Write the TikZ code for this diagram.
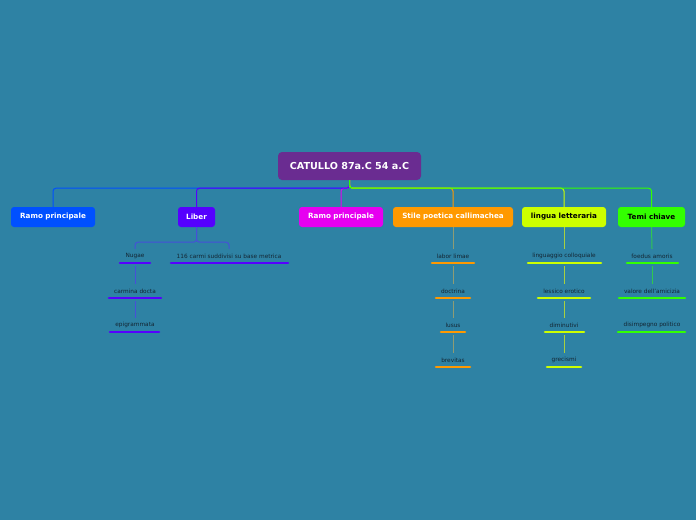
\documentclass[tikz,border=0pt]{standalone}
\usepackage{fontspec}
\setmainfont{DejaVu Sans}
\definecolor{bg}{HTML}{2E82A4}
\definecolor{croot}{HTML}{6A2C91}
\definecolor{ca}{HTML}{0050FF}
\definecolor{cb}{HTML}{5500FF}
\definecolor{cc}{HTML}{E600F0}
\definecolor{cd}{HTML}{FF9900}
\definecolor{ce}{HTML}{CCFF00}
\definecolor{cf}{HTML}{33FF00}
\definecolor{itemtext}{HTML}{142633}
\definecolor{subb}{HTML}{4650D8}
\definecolor{subd}{HTML}{8E9C74}
\definecolor{sube}{HTML}{A8D040}
\definecolor{subf}{HTML}{30C850}
\tikzset{
  rootbox/.style={fill=croot, rounded corners=4pt, minimum width=143pt, minimum height=28pt,
    text=white, font=\fontsize{9.6}{11}\selectfont\bfseries, inner sep=0pt},
  mainbox/.style={fill=#1, rounded corners=3pt, minimum height=20pt,
    font=\fontsize{7.2}{9}\selectfont\bfseries, inner sep=0pt},
  item/.style={minimum height=14pt, inner xsep=0pt, inner ysep=0pt, text=itemtext,
    font=\fontsize{5.8}{7}\selectfont},
  ul/.style={draw=#1, line width=2.6pt, line cap=round},
  conn/.style={draw=#1, line width=1pt, rounded corners=3pt},
  sub/.style={draw=#1, line width=1pt}
}
\begin{document}
\begin{tikzpicture}[x=1pt,y=-1pt]
\useasboundingbox (0,0) rectangle (696,520);
\fill[bg] (0,0) rectangle (696,520);

\node[rootbox] (root) at (349.5,166) {CATULLO 87a.C 54 a.C};

\node[mainbox=ca, text=white, minimum width=84pt] (m1) at (53,217) {Ramo principale};
\node[mainbox=cb, text=white, minimum width=37pt] (m2) at (196.5,217) {Liber};
\node[mainbox=cc, text=white, minimum width=84pt] (m3) at (341,217) {Ramo principale};
\node[mainbox=cd, text=white, minimum width=120pt] (m4) at (453,217) {Stile poetica callimachea};
\node[mainbox=ce, text=black, minimum width=84pt] (m5) at (564,217) {lingua letteraria};
\node[mainbox=cf, text=black, minimum width=67pt] (m6) at (651.5,217) {Temi chiave};

% root connectors
\draw[conn=ca] (root.south) -- ++(0,8) -| (m1.north);
\draw[conn=cc] (root.south) -- ++(0,8) -| (m3.north);
\draw[conn=cb] (root.south) -- ++(0,8) -| (m2.north);
\draw[conn=cd] (root.south) -- ++(0,8) -| (m4.north);
\draw[conn=ce] (root.south) -- ++(0,8) -| (m5.north);
\draw[conn=cf] (root.south) -- ++(0,8) -| (m6.north);

% Liber items
\node[item] (b1) at (135,256) {Nugae};
\node[item] (b2) at (229,256) {116 carmi suddivisi su base metrica};
\node[item] (b3) at (135,291) {carmina docta};
\node[item] (b4) at (135,325) {epigrammata};
\draw[sub=subb, rounded corners=3pt] (m2.south) -- ++(0,15) -| (b1.north);
\draw[sub=subb, rounded corners=3pt] (m2.south) -- ++(0,15) -| (b2.north);
\draw[sub=subb] ([yshift=-3pt]b1.south) -- (b3.north);
\draw[sub=subb] ([yshift=-3pt]b3.south) -- (b4.north);
\draw[ul=cb] (120,263) -- (150,263);
\draw[ul=cb] (171,263) -- (288,263);
\draw[ul=cb] (109,298) -- (161,298);
\draw[ul=cb] (110,332) -- (159,332);

% Stile items
\node[item] (d1) at (453,256) {labor limae};
\node[item] (d2) at (453,291) {doctrina};
\node[item] (d3) at (453,325) {lusus};
\node[item] (d4) at (453,360) {brevitas};
\draw[sub=subd] (m4.south) -- (d1.north);
\draw[sub=subd] ([yshift=-3pt]d1.south) -- (d2.north);
\draw[sub=subd] ([yshift=-3pt]d2.south) -- (d3.north);
\draw[sub=subd] ([yshift=-3pt]d3.south) -- (d4.north);
\draw[ul=cd] (432,263) -- (474,263);
\draw[ul=cd] (436,298) -- (470,298);
\draw[ul=cd] (441,332) -- (465,332);
\draw[ul=cd] (436,367) -- (470,367);

% lingua items
\node[item] (e1) at (564,256) {linguaggio colloquiale};
\node[item] (e2) at (564,291) {lessico erotico};
\node[item] (e3) at (564,325) {diminutivi};
\node[item] (e4) at (564,360) {grecismi};
\draw[sub=sube] (m5.south) -- (e1.north);
\draw[sub=sube] ([yshift=-3pt]e1.south) -- (e2.north);
\draw[sub=sube] ([yshift=-3pt]e2.south) -- (e3.north);
\draw[sub=sube] ([yshift=-3pt]e3.south) -- (e4.north);
\draw[ul=ce] (528,263) -- (601,263);
\draw[ul=ce] (538,298) -- (590,298);
\draw[ul=ce] (545,332) -- (584,332);
\draw[ul=ce] (547,367) -- (581,367);

% Temi items
\node[item] (f1) at (652,256) {foedus amoris};
\node[item] (f2) at (652,291) {valore dell'amicizia};
\node[item] (f3) at (652,325) {disimpegno politico};
\draw[sub=subf] (m6.south) -- (f1.north);
\draw[sub=subf] ([yshift=-3pt]f1.south) -- (f2.north);
\draw[ul=cf] (627,263) -- (678,263);
\draw[ul=cf] (619,298) -- (685,298);
\draw[ul=cf] (618,332) -- (685,332);
\end{tikzpicture}
\end{document}
